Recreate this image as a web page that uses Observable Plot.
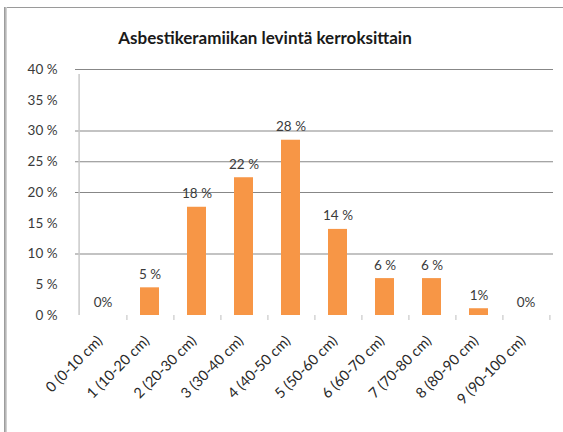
<!DOCTYPE html>
<html>
<head>
<meta charset="utf-8">
<script src="https://cdn.jsdelivr.net/npm/d3@7"></script>
<script src="https://cdn.jsdelivr.net/npm/@observablehq/plot@0.6"></script>
<style>
  html, body { margin: 0; padding: 0; background: #fff; }
  #wrap { position: relative; width: 563px; height: 432px; overflow: hidden; font-family: Lato, "Open Sans", sans-serif; }
  #frameTop { position: absolute; left: 4px; top: 7px; width: 559px; height: 0; border-top: 1.5px solid #9a9a9a; }
  #frameLeft { position: absolute; left: 4px; top: 7px; width: 3px; height: 425px; background: linear-gradient(to right, #8f8f8f, #b8b8b8, #dcdcdc); }
  #title { position: absolute; left: 0; top: 27px; width: 530px; text-align: center; font: bold 17px Lato, sans-serif; color: #1a1a1a; }
  #chart { position: absolute; left: 0; top: 0; }
</style>
</head>
<body>
<div id="wrap">
  <div id="chart"></div>
  <div id="frameTop"></div>
  <div id="frameLeft"></div>
  <div id="title">Asbestikeramiikan levintä kerroksittain</div>
</div>
<script>
const categories = ["0 (0-10 cm)", "1 (10-20 cm)", "2 (20-30 cm)", "3 (30-40 cm)", "4 (40-50 cm)",
  "5 (50-60 cm)", "6 (60-70 cm)", "7 (70-80 cm)", "8 (80-90 cm)", "9 (90-100 cm)"];
const values = [0, 4.5, 17.6, 22.4, 28.5, 14.0, 6.0, 6.0, 1.1, 0];
const valueLabels = ["0%", "5 %", "18 %", "22 %", "28 %", "14 %", "6 %", "6 %", "1%", "0%"];
const yTicks = [0, 5, 10, 15, 20, 25, 30, 35, 40];
const gridLines = [10, 20, 25, 30, 40];

const data = categories.map((c, i) => ({cat: c, v: values[i], label: valueLabels[i]}));

const step = (553 - 75) / categories.length;

const chart = Plot.plot({
  width: 563,
  height: 432,
  marginLeft: 75,
  marginRight: 10,
  marginTop: 69,
  marginBottom: 117,
  style: {fontFamily: "Lato, sans-serif", background: "transparent", overflow: "visible"},
  x: {type: "band", domain: categories, paddingInner: 0.6, paddingOuter: 0.3, axis: null},
  y: {type: "linear", domain: [0, 40], axis: null},
  marks: [
    Plot.ruleY(gridLines, {y: d => d, stroke: "#878787", strokeWidth: 1}),
    Plot.ruleX([categories[0]], {x: d => d, dx: -step / 2, y1: () => 0, y2: () => 40, stroke: "#c9c9c9", strokeWidth: 1.5, insetBottom: -5}),
    Plot.ruleX(categories, {x: d => d, dx: step / 2, y1: () => 0, y2: () => 0, stroke: "#c9c9c9", strokeWidth: 1.2, insetBottom: -5}),
    Plot.barY(data, {x: "cat", y: "v", fill: "#F79646"}),
    Plot.text(data, {x: "cat", y: "v", text: "label", lineAnchor: "bottom", dy: -9, fontSize: 13.5, fill: "#3a3a3a", letterSpacing: "0.3px"}),
    Plot.text(yTicks, {y: d => d, text: d => `${d} %`, frameAnchor: "left", textAnchor: "end", dx: -18, fontSize: 13.5, fill: "#3a3a3a"}),
    Plot.text(categories, {x: d => d, y: () => 0, text: d => d, rotate: -45, textAnchor: "end", lineAnchor: "middle", dy: 23, dx: -3, fontSize: 14.5, fill: "#2a2a2a"})
  ]
});
document.getElementById("chart").appendChild(chart);
</script>
</body>
</html>
